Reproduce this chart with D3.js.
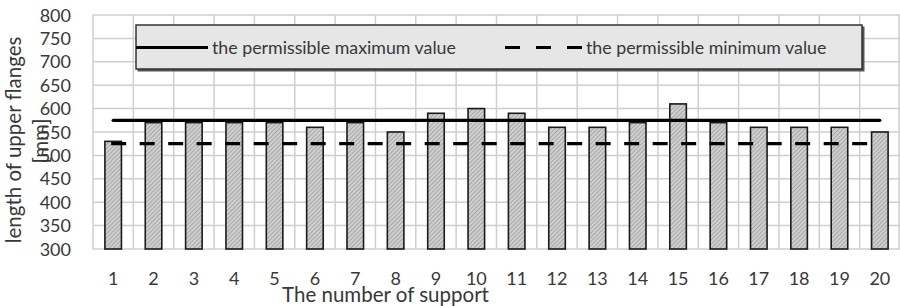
<!DOCTYPE html>
<html lang="en">
<head>
<meta charset="UTF-8">
<title>Upper flanges</title>
<script src="https://d3js.org/d3.v7.min.js"></script>
<style>
  html, body { margin: 0; background: white; }
  body { font-family: Lato, "Open Sans", sans-serif; color: #333; }
  text { fill: #383838; }
</style>
</head>
<body>
<div id="chart"></div>
<script>
const supports = d3.range(1, 21).map(String);
const flangeLength = [530, 570, 570, 570, 570, 560, 570, 550, 590, 600,
                      590, 560, 560, 570, 610, 570, 560, 560, 560, 550];
const maxValue = 575;
const minValue = 525;
const yTicks = [300, 350, 400, 450, 500, 550, 600, 650, 700, 750, 800];
const legendLabels = ["the permissible maximum value", "the permissible minimum value"];

const width = 900, height = 306;
const margin = {top: 15, right: 0, bottom: 57, left: 93};

const svg = d3.select("#chart").append("svg")
    .attr("width", width)
    .attr("height", height);

const defs = svg.append("defs");
const pat = defs.append("pattern")
    .attr("id", "hatch")
    .attr("patternUnits", "userSpaceOnUse")
    .attr("width", 3)
    .attr("height", 3)
    .attr("patternTransform", "rotate(45)");
pat.append("rect").attr("width", 3).attr("height", 3).attr("fill", "#d0d0d0");
pat.append("line").attr("x1", 0).attr("y1", 0).attr("x2", 0).attr("y2", 3)
    .attr("stroke", "#8a8a8a").attr("stroke-width", 1.2);

const x = d3.scaleBand()
    .domain(supports)
    .range([margin.left, width - margin.right])
    .paddingInner(0.59)
    .paddingOuter(0.295);

const xCell = d3.scaleBand()
    .domain(supports)
    .range([margin.left, width - margin.right]);

const y = d3.scaleLinear()
    .domain([300, 800])
    .range([height - margin.bottom, margin.top]);

// grid
const grid = svg.append("g").attr("stroke", "#cfcfcf").attr("stroke-width", 1.5);
grid.selectAll(".h").data(yTicks).enter().append("line")
    .attr("x1", margin.left).attr("x2", width - margin.right)
    .attr("y1", d => y(d)).attr("y2", d => y(d));
grid.selectAll(".v").data(supports).enter().append("line")
    .attr("x1", d => xCell(d)).attr("x2", d => xCell(d))
    .attr("y1", y(300)).attr("y2", y(800));
grid.append("line")
    .attr("x1", width - 1).attr("x2", width - 1)
    .attr("y1", y(300)).attr("y2", y(800));

// y tick labels
svg.append("g").selectAll("text").data(yTicks).enter().append("text")
    .attr("x", 71)
    .attr("y", d => y(d) + 6.6)
    .attr("text-anchor", "end")
    .style("font-size", "18px")
    .text(d => d);

// x tick labels
svg.append("g").selectAll("text").data(supports).enter().append("text")
    .attr("x", d => xCell(d) + xCell.bandwidth() / 2)
    .attr("y", 285)
    .attr("text-anchor", "middle")
    .style("font-size", "18px")
    .text(d => d);

// bars
svg.append("g").selectAll("rect").data(flangeLength).enter().append("rect")
    .attr("x", (d, i) => x(supports[i]))
    .attr("y", d => y(d))
    .attr("width", x.bandwidth())
    .attr("height", d => y(300) - y(d))
    .attr("fill", "url(#hatch)")
    .attr("stroke", "#1a1a1a")
    .attr("stroke-width", 1.6);

// limit lines
const cx = s => xCell(s) + xCell.bandwidth() / 2;
const first = supports[0], last = supports[supports.length - 1];
svg.append("line")
    .attr("x1", cx(first)).attr("x2", cx(last))
    .attr("y1", y(maxValue)).attr("y2", y(maxValue))
    .attr("stroke", "#000").attr("stroke-width", 3.2)
    .attr("stroke-linecap", "round");
svg.append("line")
    .attr("x1", cx(first) - 2).attr("x2", cx(last))
    .attr("y1", y(minValue)).attr("y2", y(minValue))
    .attr("stroke", "#000").attr("stroke-width", 3.2)
    .attr("stroke-dasharray", "15 13.5");

// legend
const lg = svg.append("g");
lg.append("rect")
    .attr("x", 137.5).attr("y", 26.5).attr("width", 727).attr("height", 45)
    .attr("fill", "#555");
lg.append("rect")
    .attr("x", 136).attr("y", 25).attr("width", 726).attr("height", 44)
    .attr("fill", "#e6e6e6").attr("stroke", "#333").attr("stroke-width", 1.5);
lg.append("line")
    .attr("x1", 136).attr("x2", 208).attr("y1", 47.5).attr("y2", 47.5)
    .attr("stroke", "#000").attr("stroke-width", 3);
lg.append("text")
    .attr("x", 212).attr("y", 54)
    .style("font-size", "17.8px")
    .text(legendLabels[0]);
lg.append("line")
    .attr("x1", 505).attr("x2", 583).attr("y1", 47.5).attr("y2", 47.5)
    .attr("stroke", "#000").attr("stroke-width", 3)
    .attr("stroke-dasharray", "15 16");
lg.append("text")
    .attr("x", 586).attr("y", 54)
    .style("font-size", "17.8px")
    .text(legendLabels[1]);

// axis titles
svg.append("text")
    .attr("x", (283 + 488) / 2).attr("y", 302)
    .attr("text-anchor", "middle")
    .style("font-size", "20.5px")
    .text("The number of support");

svg.append("text")
    .attr("transform", "translate(21,140) rotate(-90)")
    .attr("text-anchor", "middle")
    .style("font-size", "20.5px")
    .text("length of upper flanges");
svg.append("text")
    .attr("transform", "translate(48,141) rotate(-90)")
    .attr("text-anchor", "middle")
    .style("font-size", "20.5px")
    .text("[mm]");
</script>
</body>
</html>
